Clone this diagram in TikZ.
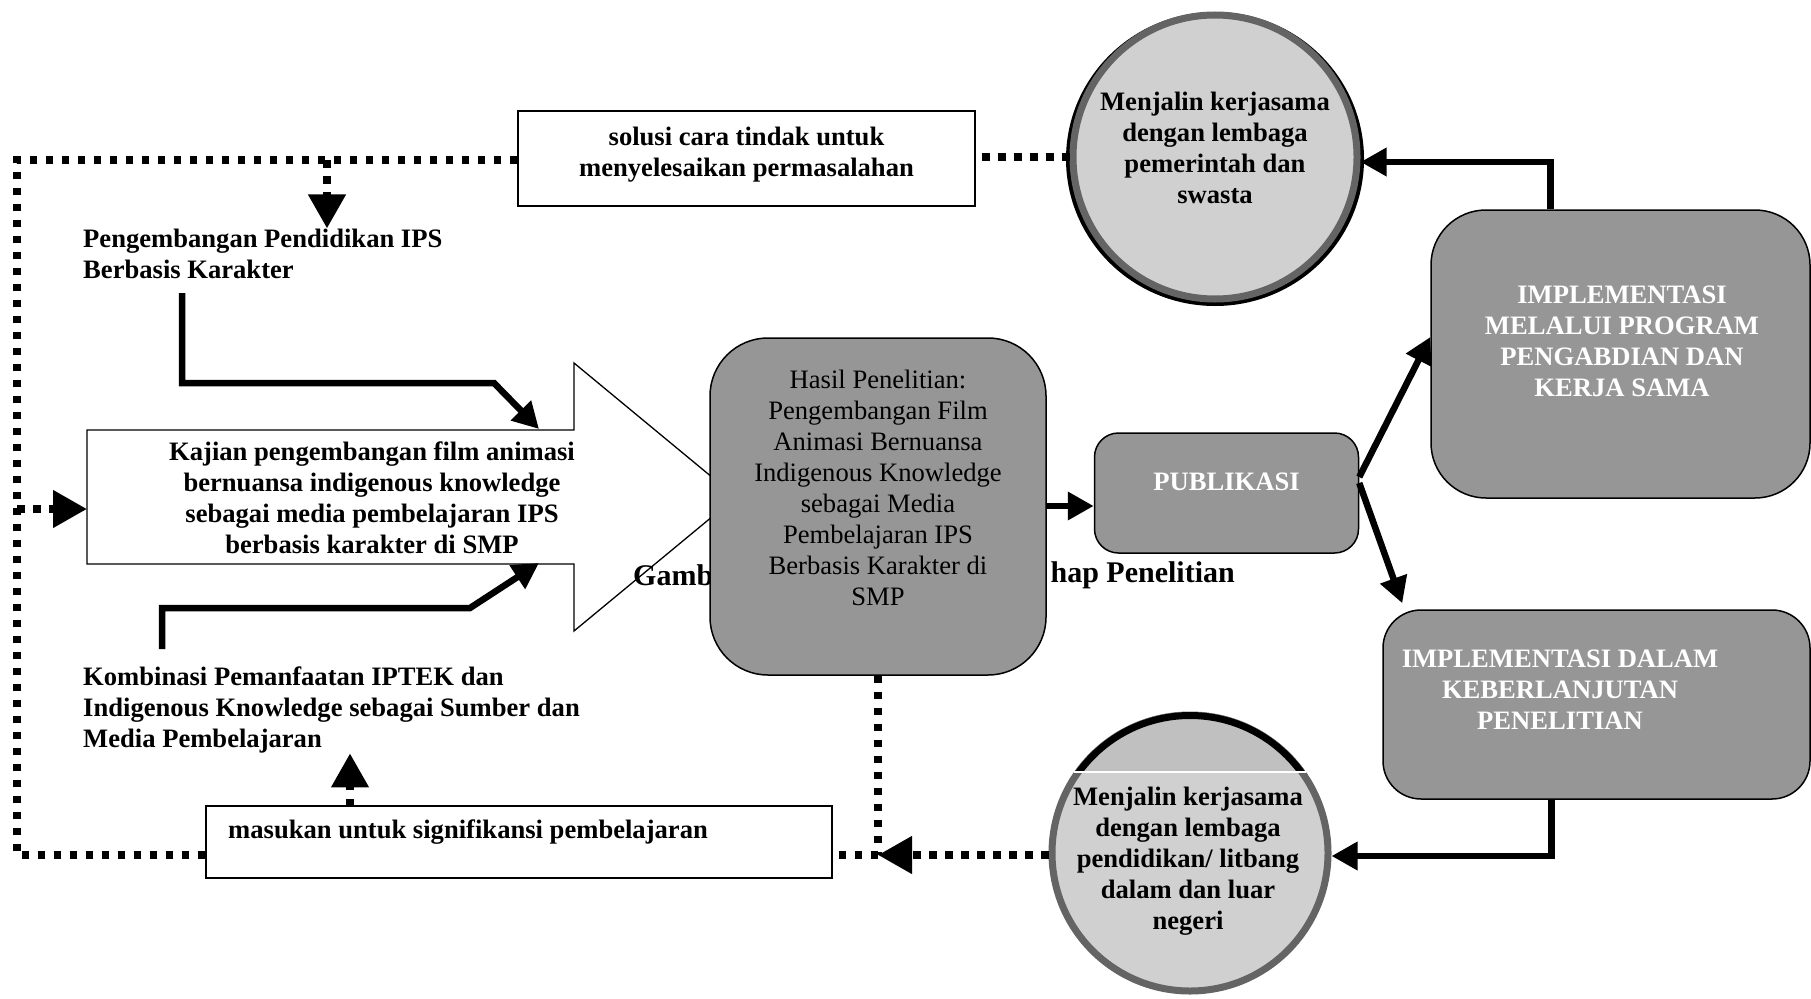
\documentclass[tikz,border=0pt]{standalone}
\usepackage{fontspec}
\setmainfont{Liberation Serif}
\usetikzlibrary{arrows.meta,calc}
\definecolor{boxgray}{RGB}{150,150,150}
\definecolor{circfill}{RGB}{208,208,208}
\definecolor{circedge}{RGB}{100,100,100}
\definecolor{captop}{RGB}{192,192,192}
\begin{document}
\begin{tikzpicture}[x=1pt,y=-1pt,
  txt/.style={font=\fontsize{26.6}{31}\selectfont\bfseries, align=center, inner sep=0pt},
  plaintxt/.style={font=\fontsize{26.6}{31}\selectfont, align=center, inner sep=0pt},
  wtxt/.style={txt, text=white},
  gbox/.style={draw=black, line width=1.5pt, fill=boxgray, inner sep=0pt, rectangle},
  wbox/.style={draw=black, line width=1.5pt, fill=white, inner sep=0pt, rectangle},
  circnode/.style={circle, draw=circedge, line width=7pt, fill=circfill, inner sep=0pt},
  dotline/.style={line width=7.5pt, dash pattern=on 7.5pt off 8.5pt},
  dotarrow/.style={dotline, -{Triangle[length=34pt,width=36pt]}},
  solidarrow/.style={line width=6.5pt, line join=miter, -{Triangle[length=26pt,width=27pt]}}
]
\useasboundingbox (0,0) rectangle (1811,998);
\fill[white] (0,0) rectangle (1811,998);

% big white arrow
\draw[line width=1.3pt, fill=white] (87,430) -- (574,430) -- (574,363) -- (736,497)
  -- (574,631) -- (574,564) -- (87,564) -- cycle;
\coordinate (kajL) at (87,509);
\coordinate (kajT) at (539,429);
\coordinate (kajB) at (539,563);
\node[txt] (kajian) at (372,498) {Kajian pengembangan film animasi\\bernuansa indigenous knowledge\\sebagai media pembelajaran IPS\\berbasis karakter di SMP};

% caption partly hidden
\node[font=\fontsize{30}{36}\selectfont\bfseries, inner sep=0pt, anchor=west] (capL) at (633,575) {Gamb};
\node[font=\fontsize{30}{36}\selectfont\bfseries, inner sep=0pt, anchor=east] (capR) at (1235,575) {hap Penelitian};

% boxes
\node[wbox, minimum width=457pt, minimum height=95pt] (solusi) at (746.5,158.5) {};
\node[txt] (solusiT) at (746.5,154.5) {solusi cara tindak untuk\\menyelesaikan permasalahan};

\node[wbox, minimum width=626pt, minimum height=72pt] (masukan) at (519,842) {};
\node[txt, anchor=west] (masukanT) at (228,832) {masukan untuk signifikansi pembelajaran};

\node[gbox, rounded corners=58pt, minimum width=336pt, minimum height=337pt] (hasil) at (878,506.5) {};
\node[plaintxt] (hasilT) at (878,488) {Hasil Penelitian:\\Pengembangan Film\\Animasi Bernuansa\\Indigenous Knowledge\\sebagai Media\\Pembelajaran IPS\\Berbasis Karakter di\\SMP};

\node[gbox, rounded corners=24pt, minimum width=264pt, minimum height=120pt] (publ) at (1226.5,493) {};
\node[wtxt] (publT) at (1226.5,482) {PUBLIKASI};

\node[gbox, rounded corners=55pt, minimum width=379pt, minimum height=288pt] (impl1) at (1620.5,354) {};
\node[wtxt] (impl1T) at (1622,341) {IMPLEMENTASI\\MELALUI PROGRAM\\PENGABDIAN DAN\\KERJA SAMA};

\node[gbox, rounded corners=38pt, minimum width=427pt, minimum height=189pt] (impl2) at (1596.5,704.5) {};
\node[wtxt] (impl2T) at (1560,690) {IMPLEMENTASI DALAM\\KEBERLANJUTAN\\PENELITIAN};

% circles
\fill[black] (1215,159) ellipse [x radius=149pt, y radius=147pt];
\node[circnode, minimum size=284pt] (circTop) at (1215,157) {};
\node[txt] (circTopT) at (1215,148) {Menjalin kerjasama\\dengan lembaga\\pemerintah dan\\swasta};

\node[circnode, minimum size=276pt] (circBot) at (1190,853) {};
\begin{scope}
  \clip (1000,690) rectangle (1400,772);
  \fill[captop] (1190,853) circle [radius=141pt];
  \draw[black, line width=7pt] (1190,853) circle [radius=137.5pt];
\end{scope}
\draw[white, line width=2pt] (1074,772) -- (1306,772);
\node[txt] (circBotT) at (1188,861) {Menjalin kerjasama\\dengan lembaga\\pendidikan/ litbang\\dalam dan luar\\negeri};

% side texts
\node[txt, anchor=west, align=left] (peng) at (83,253.5) {Pengembangan Pendidikan IPS\\Berbasis Karakter};
\node[txt, anchor=west, align=left] (komb) at (83,710) {Kombinasi Pemanfaatan IPTEK dan\\Indigenous Knowledge sebagai Sumber dan\\Media Pembelajaran};

% dotted feedback lines
\coordinate (lt) at (17,160);
\coordinate (lb) at (17,855);
\coordinate (lm) at (17,509);
\coordinate (tb) at (327,160);
\coordinate (mb) at (350,806);
\draw[dotline] (circTop.west) -- (solusi.east |- circTop.west);
\draw[dotline] (solusi.west |- lt) -- (lt) -- (lb) -- (masukan.west |- lb);
\draw[dotarrow] (lm) -- (kajL);
\draw[dotarrow] (tb) -- (tb |- peng.north);
\draw[dotarrow] (mb) -- (mb |- komb.south);
\draw[dotline] (hasil.south) -- (hasil.south |- lb);
\draw[dotarrow] (circBot.west |- lb) -- (hasil.south |- lb);
\draw[dotline] (hasil.south |- lb) -- (masukan.east |- lb);

% solid arrows
\coordinate (p1) at (182,293);
\coordinate (p2) at (162,649);
\draw[solidarrow] (p1) |- (494,383) -- (kajT);
\draw[solidarrow] (p2) |- (470,608) -- (kajB);
\draw[solidarrow] (hasil.east |- 0,506) -- (publ.west |- 0,506);
\draw[solidarrow] ([yshift=16pt]publ.east) -- ([yshift=17pt]impl1.west);
\draw[solidarrow] ([yshift=10pt]publ.east) -- ([xshift=20pt,yshift=6pt]impl2.north west);
\draw[solidarrow] ([xshift=-70pt]impl1.north) |- ([yshift=-5pt]circTop.east);
\draw[solidarrow] ([xshift=-45pt]impl2.south) |- ([yshift=-3pt]circBot.east);
\end{tikzpicture}
\end{document}
